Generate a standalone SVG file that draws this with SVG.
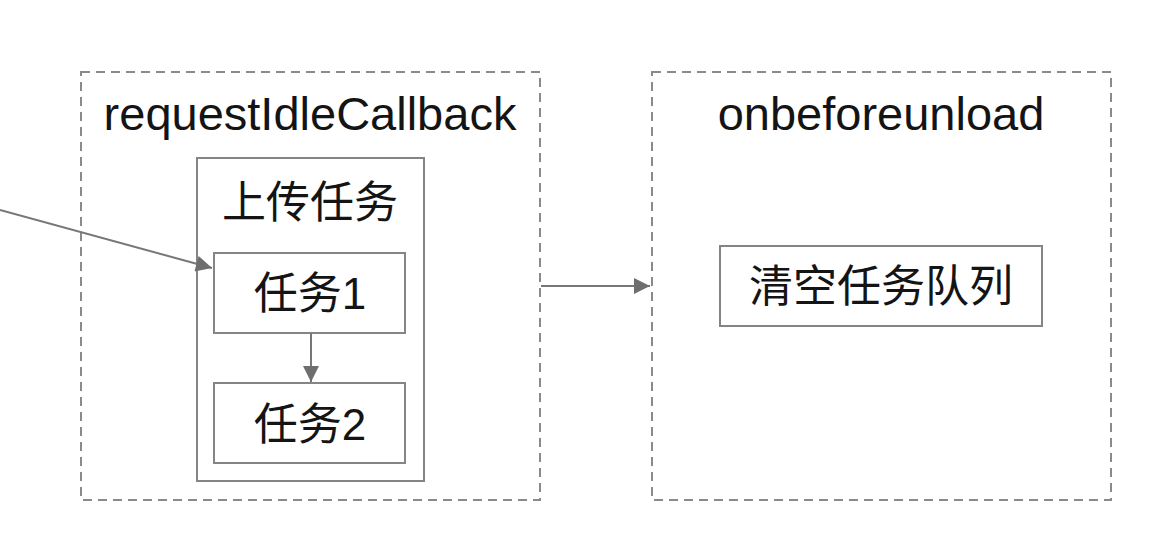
<svg xmlns="http://www.w3.org/2000/svg" width="1152" height="554" viewBox="0 0 1152 554">
<style>
.bg{fill:#ffffff}
.group{fill:none;stroke:#8a8a8a;stroke-width:2;stroke-dasharray:9 6}
.box{fill:#ffffff;stroke:#858585;stroke-width:2}
.t{font-family:"Liberation Sans","Noto Sans CJK SC",sans-serif;font-size:44px;fill:#141414;text-anchor:middle}
.lat{font-size:47px}
.edge{fill:none;stroke:#777777;stroke-width:2}
</style>
<defs>
<marker id="arrL" viewBox="0 0 10 10" refX="10" refY="5" markerWidth="20" markerHeight="16" markerUnits="userSpaceOnUse" orient="auto">
<path d="M0,0 L10,5 L0,10 z" fill="#6e6e6e"/>
</marker>
</defs>
<rect class="bg" x="0" y="0" width="1152" height="554"/>
<g id="requestIdleCallback">
<rect class="group" x="81" y="72" width="459" height="428"/>
<text class="t lat" x="310" y="130">requestIdleCallback</text>
</g>
<g id="onbeforeunload">
<rect class="group" x="652" y="72" width="459" height="428"/>
<text class="t lat" x="881" y="130">onbeforeunload</text>
</g>
<g id="upload">
<rect class="box" x="197" y="158" width="227" height="323"/>
<text class="t" x="310" y="218">上传任务</text>
</g>
<g id="task1">
<rect class="box" x="214" y="253" width="191" height="80"/>
<text class="t" x="310" y="309">任务1</text>
</g>
<g id="task2">
<rect class="box" x="214" y="383" width="191" height="80"/>
<text class="t" x="310" y="440">任务2</text>
</g>
<g id="clear">
<rect class="box" x="720" y="246" width="322" height="80"/>
<text class="t" x="881" y="302">清空任务队列</text>
</g>
<g id="connectors">
<path class="edge" d="M0,210 L212,268" marker-end="url(#arrL)"/>
<path class="edge" d="M311,333 L311,382" marker-end="url(#arrL)"/>
<path class="edge" d="M541,286 L650,286" marker-end="url(#arrL)"/>
</g>
</svg>
